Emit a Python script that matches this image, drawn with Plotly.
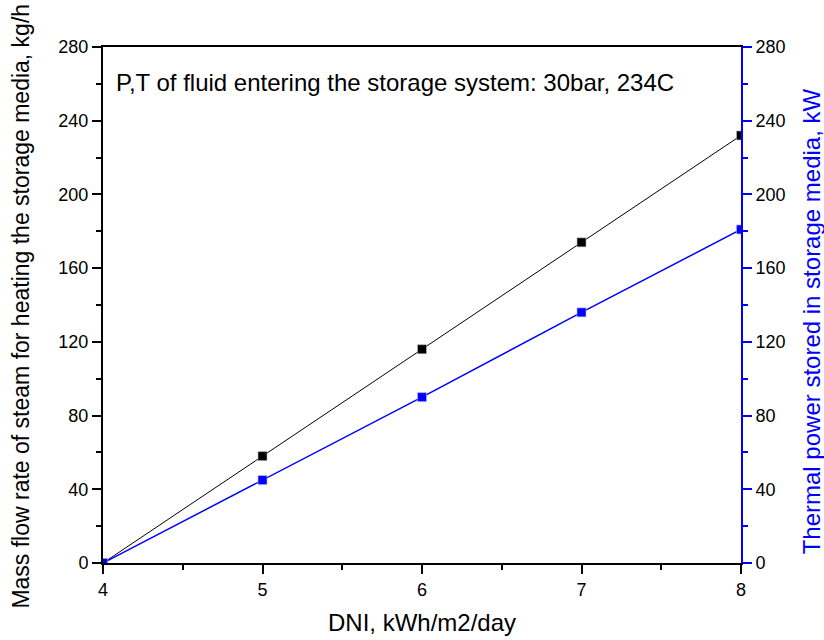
import plotly.graph_objects as go

# DNI values and the two response series
dni = [4, 5, 6, 7, 8]
mass_flow = [0, 58, 116, 174, 232]       # kg/h, left axis
thermal_power = [0, 45, 90, 136, 181]    # kW, right axis

y_ticks = [0, 40, 80, 120, 160, 200, 240, 280]
x_ticks = [4, 5, 6, 7, 8]

FONT = "Liberation Sans, Arial, sans-serif"
BLUE = "#0000FF"

fig = go.Figure()
fig.add_trace(go.Scatter(
    x=dni, y=mass_flow, mode="lines+markers",
    line=dict(color="black", width=1),
    marker=dict(symbol="square", size=9, color="black",
                line=dict(color="#bbbbbb", width=0.6)),
    showlegend=False,
))
fig.add_trace(go.Scatter(
    x=dni, y=thermal_power, mode="lines+markers", yaxis="y2",
    line=dict(color=BLUE, width=1.5),
    marker=dict(symbol="square", size=9, color=BLUE,
                line=dict(color="#bbbbff", width=0.6)),
    showlegend=False,
))

fig.add_annotation(
    text="P,T of fluid entering the storage system: 30bar, 234C",
    xref="paper", yref="paper", x=0.018, y=0.932,
    xanchor="left", yanchor="middle", showarrow=False,
    font=dict(family=FONT, size=24, color="black"),
)

# left-hand axis title
fig.add_annotation(
    text="Mass flow rate of steam for heating the storage media, kg/h",
    xref="paper", yref="paper", x=-0.130, y=0.497,
    xanchor="center", yanchor="middle", textangle=-90, showarrow=False,
    font=dict(family=FONT, size=23, color="black"),
)

# right-hand axis title, rotated and set slightly below the axis centre
fig.add_annotation(
    text="Thermal power stored in storage media, kW",
    xref="paper", yref="paper", x=1.111, y=0.468,
    xanchor="center", yanchor="middle", textangle=-90, showarrow=False,
    font=dict(family=FONT, size=24, color=BLUE),
)

fig.update_layout(
    width=824, height=640,
    margin=dict(l=103, r=83, t=47, b=77),
    paper_bgcolor="white", plot_bgcolor="white",
    font=dict(family=FONT, size=18, color="black"),
    xaxis=dict(
        range=[4, 8], tickvals=x_ticks, showgrid=False, zeroline=False,
        showline=True, linecolor="black", linewidth=2, mirror=True,
        ticks="outside", ticklen=9, tickwidth=2, tickcolor="black",
        minor=dict(dtick=0.5, ticks="outside", ticklen=5, tickwidth=2,
                   tickcolor="black", showgrid=False),
        tickfont=dict(size=18), automargin=False,
        title=dict(text="DNI, kWh/m2/day", font=dict(size=24), standoff=16),
    ),
    yaxis=dict(
        range=[0, 280], tickvals=y_ticks, showgrid=False, zeroline=False,
        showline=True, linecolor="black", linewidth=2,
        ticks="outside", ticklen=9, tickwidth=2, tickcolor="black",
        minor=dict(dtick=20, ticks="outside", ticklen=5, tickwidth=2,
                   tickcolor="black", showgrid=False),
        tickfont=dict(size=18), automargin=False,
    ),
    yaxis2=dict(
        range=[0, 280], tickvals=y_ticks, overlaying="y", side="right",
        showgrid=False, zeroline=False,
        showline=True, linecolor=BLUE, linewidth=2,
        ticks="outside", ticklen=9, tickwidth=2, tickcolor=BLUE,
        minor=dict(dtick=20, ticks="outside", ticklen=5, tickwidth=2,
                   tickcolor=BLUE, showgrid=False),
        tickfont=dict(size=18, color="black"), automargin=False,
    ),
)

fig.write_html("out.html")
